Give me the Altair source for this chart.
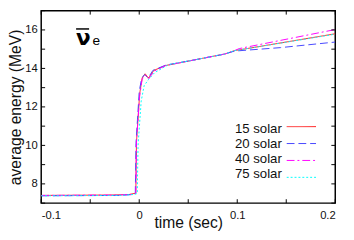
import altair as alt
import pandas as pd

series = ["15 solar", "20 solar", "40 solar", "75 solar"]
colors = ["#ff1a1a", "#4646ff", "#ff00ff", "#00ffff"]
dashes = [[1, 0], [8, 4], [8, 3, 2, 3], [2, 2]]

t15 = [-0.1, -0.03, -0.01, -0.0035, -0.0028, 0.0005, 0.003, 0.006, 0.0095, 0.015, 0.027, 0.054, 0.0875, 0.097, 0.2]
e15 = [7.4, 7.42, 7.45, 7.52, 10.2, 12.7, 13.5, 13.72, 13.5, 13.9, 14.15, 14.42, 14.75, 14.92, 15.8]

t20 = [-0.1, -0.02, -0.006, -0.004, -0.0033, 0.0, 0.0025, 0.0055, 0.009, 0.014, 0.027, 0.054, 0.0875, 0.097, 0.144, 0.2]
e20 = [7.38, 7.4, 7.45, 7.5, 10.1, 12.8, 13.5, 13.68, 13.5, 13.9, 14.17, 14.42, 14.75, 14.9, 15.08, 15.37]

t40 = [-0.1, -0.02, -0.006, -0.0035, -0.0028, 0.0005, 0.003, 0.0065, 0.0095, 0.015, 0.027, 0.054, 0.0875, 0.097, 0.102, 0.2]
e40 = [7.4, 7.42, 7.46, 7.52, 10.2, 12.6, 13.45, 13.65, 13.45, 13.85, 14.15, 14.42, 14.75, 14.92, 15.03, 16.02]

t75 = [-0.1, -0.02, -0.005, -0.002, -0.0012, 0.002, 0.005, 0.0094, 0.0157, 0.03, 0.054, 0.0875, 0.097, 0.2]
e75 = [7.38, 7.4, 7.45, 7.5, 10.0, 12.3, 13.1, 13.42, 13.78, 14.2, 14.42, 14.75, 14.92, 15.78]

x_ticks = [-0.1, -0.05, 0.0, 0.05, 0.1, 0.15, 0.2]
x_labels = [-0.1, 0.0, 0.1, 0.2]
y_ticks = [7, 8, 9, 10, 11, 12, 13, 14, 15, 16, 17]
y_labels = [8, 10, 12, 14, 16]

W, H = 301, 197

rows = []
for name, ts, es in zip(series, [t15, t20, t40, t75], [e15, e20, e40, e75]):
    for i, (t, e) in enumerate(zip(ts, es)):
        rows.append({"s": name, "t": t, "e": e, "i": i})
df = pd.DataFrame(rows)

xscale = alt.Scale(domain=[-0.1, 0.2], nice=False, zero=False)
yscale = alt.Scale(domain=[7, 17], nice=False, zero=False)
cscale = alt.Scale(domain=series, range=colors)
dscale = alt.Scale(domain=series, range=dashes)

xaxis = alt.Axis(values=x_labels, ticks=False, domain=False, grid=False,
                 labelExpr="datum.value == 0 ? '0' : (datum.value < 0 ? '-' : '') + format(abs(datum.value), '.1f')",
                 labelFontSize=11.5, labelPadding=7, labelColor="#111",
                 titleFontSize=16, titleFontWeight="normal", titleY=24.6,
                 titleBaseline="alphabetic", titleColor="#111")
yaxis = alt.Axis(values=y_labels, ticks=False, domain=False, grid=False,
                 labelFontSize=11.5, labelPadding=4, labelColor="#111",
                 titleFontSize=16, titleFontWeight="normal", titleX=-21,
                 titleY=H / 2, titleBaseline="alphabetic", titleAlign="center",
                 titleAngle=270, titleColor="#111")
xtitle = "time (sec)"
ytitle = "average energy (MeV)"

lines = alt.Chart(df).mark_line(strokeWidth=1, clip=True).encode(
    x=alt.X("t:Q", scale=xscale, title=xtitle, axis=xaxis),
    y=alt.Y("e:Q", scale=yscale, title=ytitle, axis=yaxis),
    color=alt.Color("s:N", scale=cscale, legend=None),
    strokeDash=alt.StrokeDash("s:N", scale=dscale, legend=None),
    detail="s:N",
)

xt = pd.DataFrame({"t": x_ticks})
yt = pd.DataFrame({"e": y_ticks})
tick_len = 4
xb = alt.Chart(xt).mark_rule(color="black", strokeWidth=1).encode(
    x=alt.X("t:Q", scale=xscale, title=xtitle, axis=xaxis), y=alt.value(H), y2=alt.value(H - tick_len))
xtop = alt.Chart(xt).mark_rule(color="black", strokeWidth=1).encode(
    x=alt.X("t:Q", scale=xscale, title=xtitle, axis=xaxis), y=alt.value(0), y2=alt.value(tick_len))
yl = alt.Chart(yt).mark_rule(color="black", strokeWidth=1).encode(
    y=alt.Y("e:Q", scale=yscale, title=ytitle, axis=yaxis), x=alt.value(0), x2=alt.value(tick_len))
yr = alt.Chart(yt).mark_rule(color="black", strokeWidth=1).encode(
    y=alt.Y("e:Q", scale=yscale, title=ytitle, axis=yaxis), x=alt.value(W), x2=alt.value(W - tick_len))

leg_layers = []
for k, (name, col, dash) in enumerate(zip(series, colors, dashes)):
    ld = pd.DataFrame({"s": [name]})
    leg_layers.append(alt.Chart(ld).mark_text(align="right", baseline="alphabetic", fontSize=13.5, color="#111").encode(
        x=alt.value(246.3), y=alt.value(125.3 + 15.3 * k), text="s:N"))
    leg_layers.append(alt.Chart(ld).mark_rule(strokeWidth=1, color=col, strokeDash=dash).encode(
        x=alt.value(251.3), x2=alt.value(281.3), y=alt.value(118.7 + 17.3 * k)))

lab = pd.DataFrame({"nu": ["ν"], "sub": ["e"]})
nu = alt.Chart(lab).mark_text(align="left", baseline="alphabetic", fontSize=22, fontWeight="bold",
                              font="DejaVu Sans", color="black").encode(
    x=alt.value(35.5), y=alt.value(35.3), text="nu:N")
sub = alt.Chart(lab).mark_text(align="left", baseline="alphabetic", fontSize=14, color="black").encode(
    x=alt.value(52.5), y=alt.value(35.3), text="sub:N")
bar = alt.Chart(lab).mark_rule(color="black", strokeWidth=1.5).encode(
    x=alt.value(35.7), x2=alt.value(49), y=alt.value(18.7))

chart = alt.layer(lines, xb, xtop, yl, yr, *leg_layers, nu, sub, bar).properties(
    width=W, height=H,
    autosize=alt.AutoSizeParams(type="none"),
    padding={"left": 34, "top": 0, "right": 11, "bottom": 35},
).configure(font="Liberation Sans").configure_view(stroke="black", strokeWidth=1.5)

chart.save("out.html", embed_options={"renderer": "svg", "actions": False})
